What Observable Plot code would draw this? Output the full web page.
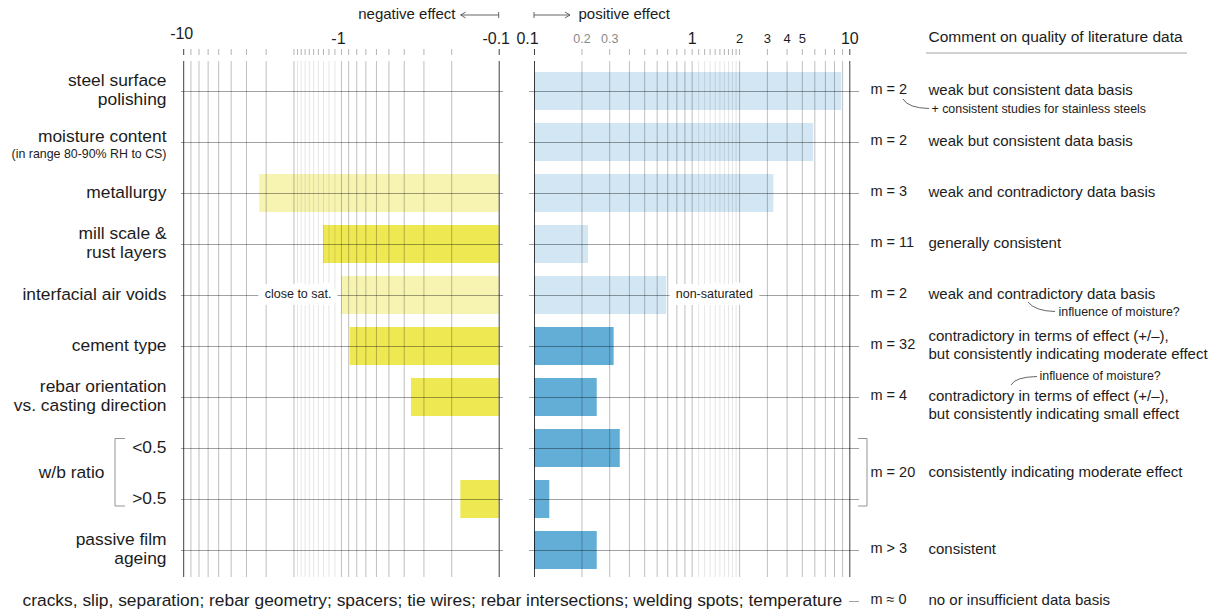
<!DOCTYPE html>
<html><head><meta charset="utf-8">
<script src="https://cdn.jsdelivr.net/npm/d3@7"></script>
<script src="https://cdn.jsdelivr.net/npm/@observablehq/plot@0.6"></script>
<style>
html,body{margin:0;padding:0;background:#fff;}
#chart{position:relative;width:1216px;height:614px;overflow:hidden;}
#chart svg{position:absolute;left:0;top:0;}
</style></head><body><div id="chart"></div>
<script>
// ---------- data ----------
const rowKeys = ["steel","moisture","metallurgy","millscale","airvoids","cement","orientation","wb_low","wb_high","ageing","other"];
const rowLabels = ["steel surface\npolishing","moisture content","metallurgy","mill scale &\nrust layers","interfacial air voids","cement type","rebar orientation\nvs. casting direction","<0.5",">0.5","passive film\nageing"];
const otherLabel = "cracks, slip, separation; rebar geometry; spacers; tie wires; rebar intersections; welding spots; temperature";
const moistureNote = "(in range 80-90% RH to CS)";
const wbLabel = "w/b ratio";

const posKeys = ["steel","moisture","metallurgy","millscale","airvoids","cement","orientation","wb_low","wb_high","ageing"];
const posValues = [8.9, 5.9, 3.3, 0.22, 0.69, 0.32, 0.25, 0.35, 0.125, 0.25];
const posShade = ["light","light","light","light","light","dark","dark","dark","dark","dark"];

const negKeys = ["metallurgy","millscale","airvoids","cement","orientation","wb_high"];
const negValues = [-3.3, -1.3, -1.0, -0.88, -0.36, -0.175];
const negShade = ["light","dark","light","dark","dark","dark"];

const mKeys = ["steel","moisture","metallurgy","millscale","airvoids","cement","orientation","wb_low","ageing","other"];
const mTexts = ["m = 2","m = 2","m = 3","m = 11","m = 2","m = 32","m = 4","m = 20","m > 3","m \u2248 0"];
const commentTexts = [
  "weak but consistent data basis",
  "weak but consistent data basis",
  "weak and contradictory data basis",
  "generally consistent",
  "weak and contradictory data basis",
  "contradictory in terms of effect (+/\u2013),\nbut consistently indicating moderate effect",
  "contradictory in terms of effect (+/\u2013),\nbut consistently indicating small effect",
  "consistently indicating moderate effect",
  "consistent",
  "no or insufficient data basis"
];
const commentHeader = "Comment on quality of literature data";
const noteSteel = "+ consistent studies for stainless steels";
const noteMoisture = "influence of moisture?";

const gridEdge = [0.1, 10];
const gridMain = [0.2,0.3,0.4,0.5,0.6,0.7,0.8,0.9,1,2,3,4,5,6,7,8,9];
const gridMinor = [1.1,1.2,1.3,1.4,1.5,1.6,1.7,1.8,1.9];

const negTickValues = [10, 1, 0.1];
const negTickLabels = ["-10", "-1", "-0.1"];
const posMajorValues = [0.1, 1, 10];
const posMajorLabels = ["0.1", "1", "10"];
const posMidValues = [2, 3, 4, 5];
const posMidLabels = ["2", "3", "4", "5"];
const posGrayValues = [0.2, 0.3];
const posGrayLabels = ["0.2", "0.3"];

// ---------- tables ----------
const posRows = posKeys.map((k, i) => ({key: k, value: posValues[i], shade: posShade[i]}));
const negRows = negKeys.map((k, i) => ({key: k, mag: Math.abs(negValues[i]), shade: negShade[i]}));
const labelRows = rowLabels.map((t, i) => ({key: rowKeys[i], text: t}));
const mRows = mKeys.map((k, i) => ({key: k, text: mTexts[i]}));
const cRows = mKeys.map((k, i) => ({key: k, text: commentTexts[i]}));
const tick = (vals, labs) => vals.map((v, i) => ({v, label: labs[i]}));

// ---------- style ----------
const W = 1216, H = 614;
const FONT = '"Liberation Sans", Arial, Helvetica, sans-serif';
const INK = "#1c1c1c";
const LIGHT_YELLOW = "#f7f4b2", DARK_YELLOW = "#eee852";
const LIGHT_BLUE = "#d2e6f3", DARK_BLUE = "#63aed6";
const yOpts = {type: "band", domain: rowKeys, range: [65, 627], paddingInner: 0.26, paddingOuter: 0.13, axis: null};
const svgStyle = {background: "transparent", fontFamily: FONT, color: INK, overflow: "visible"};
const LBL = 17.4;

function gridMarks() {
  return [
    Plot.ruleX(gridMinor, {stroke: "#000", strokeOpacity: 0.1, insetTop: 12}),
    Plot.ruleX(gridMain, {stroke: "#000", strokeOpacity: 0.25, insetTop: 12}),
    Plot.ruleX(gridEdge, {stroke: "#000", strokeOpacity: 0.75, insetTop: 12}),
    Plot.ruleX(gridMinor.concat(gridMain), {stroke: "#000", strokeOpacity: 0.3, insetBottom: 522}),
    Plot.ruleX(gridEdge, {stroke: "#000", strokeOpacity: 0.75, insetBottom: 522})
  ];
}

// ---------- negative panel ----------
const negPlot = Plot.plot({
  width: W, height: H,
  marginLeft: 181, marginRight: W - 503, marginTop: 49, marginBottom: H - 577,
  style: svgStyle,
  x: {type: "log", domain: [10, 0.1], range: [183.2, 498.7], axis: null},
  y: yOpts,
  marks: [
    Plot.barX(negRows.filter(d => d.shade === "light"), {x1: 0.1, x2: "mag", y: "key", fill: LIGHT_YELLOW}),
    Plot.barX(negRows.filter(d => d.shade === "dark"), {x1: 0.1, x2: "mag", y: "key", fill: DARK_YELLOW}),
    Plot.ruleY(rowKeys.slice(0, 10), {stroke: "#000", strokeOpacity: 0.37}),
    ...gridMarks(),
    Plot.text(tick(negTickValues, negTickLabels).filter(d => d.v !== 10), {x: "v", text: "label", frameAnchor: "top", lineAnchor: "middle", dy: -11, dx: -3, fontSize: 16, fill: INK}),
    Plot.text(tick(negTickValues, negTickLabels).filter(d => d.v === 10), {x: "v", text: "label", frameAnchor: "top", lineAnchor: "middle", dy: -16, dx: -2, fontSize: 16, fill: INK}),
    Plot.text(["negative effect"], {frameAnchor: "top-right", lineAnchor: "middle", dx: -48, dy: -35, textAnchor: "end", fontSize: 15, fill: INK}),
    Plot.text(labelRows, {y: "key", text: "text", frameAnchor: "left", dx: -15, dy: -2, textAnchor: "end", fontSize: LBL, lineHeight: 1.1, fill: INK,
      filter: d => d.key !== "moisture"}),
    Plot.text(labelRows, {y: "key", text: "text", frameAnchor: "left", dx: -15, dy: -6, textAnchor: "end", fontSize: LBL, fill: INK,
      filter: d => d.key === "moisture"}),
    Plot.text([{key: "moisture", text: moistureNote}], {y: "key", text: "text", frameAnchor: "left", dx: -15, dy: 11.5, textAnchor: "end", fontSize: 12.4, fill: INK}),
    Plot.text([{key: "wb_low", text: wbLabel}], {y: "key", text: "text", frameAnchor: "left", dx: -77, dy: 23.5, textAnchor: "end", fontSize: LBL, fill: INK}),
    Plot.text([{key: "other", text: otherLabel}], {y: "key", text: "text", frameAnchor: "left", dx: -159, dy: -1, textAnchor: "start", fontSize: LBL, fill: INK}),
    Plot.text(negRows.filter(d => d.key === "airvoids"), {x: "mag", y: "key", text: () => "close to sat.", textAnchor: "end", dx: -10, dy: -2,
      fontSize: 12.5, fill: INK, stroke: "white", strokeWidth: 14, strokeLinejoin: "round", paintOrder: "stroke"})
  ]
});

// ---------- positive panel ----------
const posPlot = Plot.plot({
  width: W, height: H,
  marginLeft: 529, marginRight: W - 859, marginTop: 49, marginBottom: H - 577,
  style: svgStyle,
  x: {type: "log", domain: [0.1, 10], range: [534, 849.3], axis: null},
  y: yOpts,
  marks: [
    Plot.barX(posRows.filter(d => d.shade === "light"), {x1: 0.1, x2: "value", y: "key", fill: LIGHT_BLUE}),
    Plot.barX(posRows.filter(d => d.shade === "dark"), {x1: 0.1, x2: "value", y: "key", fill: DARK_BLUE}),
    Plot.ruleY(rowKeys.slice(0, 10), {stroke: "#000", strokeOpacity: 0.37}),
    Plot.ruleY(["other"], {stroke: "#000", strokeOpacity: 0.37, insetLeft: 320}),
    ...gridMarks(),
    Plot.text(tick(posMajorValues, posMajorLabels).filter(d => d.v !== 0.1), {x: "v", text: "label", frameAnchor: "top", lineAnchor: "middle", dy: -11, fontSize: 16, fill: INK}),
    Plot.text(tick(posMajorValues, posMajorLabels).filter(d => d.v === 0.1), {x: "v", text: "label", frameAnchor: "top", lineAnchor: "middle", dy: -11, dx: -7, fontSize: 16, fill: INK}),
    Plot.text(tick(posMidValues, posMidLabels), {x: "v", text: "label", frameAnchor: "top", lineAnchor: "middle", dy: -10.5, fontSize: 13, fill: INK}),
    Plot.text(tick(posGrayValues, posGrayLabels), {x: "v", text: "label", frameAnchor: "top", lineAnchor: "middle", dy: -10.5, fontSize: 12.5, fill: "#8a8a8a"}),
    Plot.text(["positive effect"], {frameAnchor: "top-left", lineAnchor: "middle", dx: 49, dy: -35, textAnchor: "start", fontSize: 15, fill: INK}),
    Plot.text([commentHeader], {frameAnchor: "top-right", lineAnchor: "middle", dx: 69, dy: -12, textAnchor: "start", fontSize: 15.5, fill: INK}),
    Plot.text(mRows.filter(d => d.key !== "wb_low"), {y: "key", text: "text", frameAnchor: "right", dx: 11, dy: -2, textAnchor: "start", fontSize: 14.5, fill: INK}),
    Plot.text(mRows.filter(d => d.key === "wb_low"), {y: "key", text: "text", frameAnchor: "right", dx: 11, dy: 23.5, textAnchor: "start", fontSize: 14.5, fill: INK}),
    Plot.text(cRows.filter(d => d.key !== "wb_low" && d.key !== "orientation"), {y: "key", text: "text", frameAnchor: "right", dx: 69, dy: -2.5, textAnchor: "start", fontSize: 15, lineHeight: 1.18, fill: INK}),
    Plot.text(cRows.filter(d => d.key === "orientation"), {y: "key", text: "text", frameAnchor: "right", dx: 69, dy: 7, textAnchor: "start", fontSize: 15, lineHeight: 1.18, fill: INK}),
    Plot.text(cRows.filter(d => d.key === "wb_low"), {y: "key", text: "text", frameAnchor: "right", dx: 69, dy: 23.5, textAnchor: "start", fontSize: 15, fill: INK}),
    Plot.text([{key: "steel", text: noteSteel}], {y: "key", text: "text", frameAnchor: "right", dx: 72, dy: 17.5, textAnchor: "start", fontSize: 12.4, fill: INK}),
    Plot.text([{key: "airvoids", text: noteMoisture}], {y: "key", text: "text", frameAnchor: "right", dx: 199, dy: 16.5, textAnchor: "start", fontSize: 12.4, fill: INK}),
    Plot.text([{key: "orientation", text: noteMoisture}], {y: "key", text: "text", frameAnchor: "right", dx: 180, dy: -21, textAnchor: "start", fontSize: 12.4, fill: INK}),
    Plot.text(posRows.filter(d => d.key === "airvoids"), {x: "value", y: "key", text: () => "non-saturated", textAnchor: "start", dx: 9, dy: -2,
      fontSize: 12.5, fill: INK, stroke: "white", strokeWidth: 14, strokeLinejoin: "round", paintOrder: "stroke"})
  ]
});

const chart = document.getElementById("chart");
chart.appendChild(negPlot);
chart.appendChild(posPlot);

// ---------- decorations (positions derived from the plot scales) ----------
const ySc = posPlot.scale("y");
const yc = k => ySc.apply(k) + ySc.bandwidth / 2;
const xNeg = v => negPlot.scale("x").apply(v);
const xPos = v => posPlot.scale("x").apply(v);
const g = d3.select(posPlot).append("g").attr("fill", "none").attr("stroke", "#555").attr("stroke-width", 0.9);

// header arrows
const xn = xNeg(0.1), xp = xPos(0.1), ya = 15;
g.append("path").attr("d", `M${xn},${ya - 3}V${ya + 3}M${xn},${ya}H${xn - 38}M${xn - 33},${ya - 3}L${xn - 38},${ya}L${xn - 33},${ya + 3}`);
g.append("path").attr("d", `M${xp},${ya - 3}V${ya + 3}M${xp},${ya}H${xp + 36}M${xp + 31},${ya - 3}L${xp + 36},${ya}L${xp + 31},${ya + 3}`);

// header underline
g.append("path").attr("d", `M926,53H1187`).attr("stroke", "#999");

// brackets for w/b ratio
const yLow = yc("wb_low"), yHigh = yc("wb_high");
g.append("path").attr("d", `M125,${yLow - 9.5}H115V${yHigh + 7}H125`).attr("stroke", "#888");
g.append("path").attr("d", `M858,${yLow - 9.5}H867V${yHigh + 7}H858`).attr("stroke", "#888");

// leader curves
const ys = yc("steel"), yv = yc("airvoids"), yo = yc("orientation");
g.append("path").attr("d", `M903,${ys + 8}Q908,${ys + 17} 929,${ys + 17.5}`);
g.append("path").attr("d", `M1028,${yv + 7}Q1035,${yv + 16} 1055,${yv + 16.5}`);
g.append("path").attr("d", `M1011,${yo - 12}Q1015,${yo - 20} 1037,${yo - 20.5}`);
</script>
</body></html>
